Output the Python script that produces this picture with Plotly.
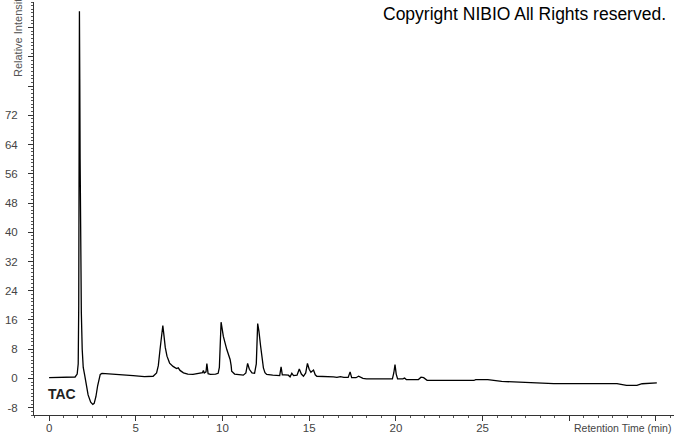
import plotly.graph_objects as go

# Retention time (min) and relative intensity
time_min = [
    0.0, 1.0, 1.5, 1.62, 1.68, 1.71, 1.75, 1.77, 1.79, 1.82, 1.86, 1.91, 1.97, 2.05,
    2.13, 2.25, 2.4, 2.52, 2.6, 2.7, 2.8, 2.88, 2.95, 3.05, 3.5, 4.0, 4.85, 5.5,
    6.0, 6.2, 6.3, 6.4, 6.5, 6.56, 6.62, 6.7, 6.8, 6.95, 7.15, 7.35, 7.45, 7.55,
    7.75, 8.0, 8.3, 8.6, 8.85, 8.9, 8.95, 9.05, 9.1, 9.17, 9.3, 9.6, 9.75, 9.82,
    9.92, 10.0, 10.05, 10.25, 10.44, 10.5, 10.53, 10.7, 11.0, 11.2, 11.35, 11.45,
    11.55, 11.7, 11.85, 11.95, 12.03, 12.1, 12.2, 12.3, 12.36, 12.45, 12.55, 12.9,
    13.3, 13.38, 13.45, 13.6, 13.8, 13.9, 14.0, 14.1, 14.3, 14.43, 14.55, 14.67,
    14.8, 14.9, 15.0, 15.1, 15.25, 15.35, 15.44, 16.4, 16.6, 16.8, 17.0, 17.25,
    17.36, 17.45, 17.7, 17.85, 17.95, 18.1, 18.3, 19.8, 19.88, 19.95, 20.02, 20.1,
    20.4, 20.5, 20.6, 21.3, 21.45, 21.6, 21.8, 24.5, 24.6, 25.3, 26.1, 27.25,
    29.1, 32.75, 33.3, 33.9, 34.2, 35.05,
]
intensity = [
    0.2, 0.2, 0.4, 1.2, 4.0, 20.0, 100.5, 82.0, 60.0, 35.0, 18.0, 8.0, 3.0, 1.0,
    -1.5, -4.5, -6.5, -7.1, -6.8, -5.0, -2.0, 0.0, 1.1, 1.4, 1.3, 1.0, 0.8, 0.5,
    0.6, 1.5, 3.5, 8.0, 13.0, 14.5, 12.0, 8.5, 6.1, 4.2, 3.3, 2.7, 2.9, 2.2,
    1.55, 1.2, 1.1, 1.4, 1.6, 2.2, 1.5, 1.8, 4.1, 1.3, 1.1, 1.2, 1.4, 3.0,
    15.4, 13.0, 11.5, 7.9, 5.2, 3.5, 2.0, 1.2, 0.9, 0.9, 1.5, 4.1,
    2.5, 1.5, 1.4, 4.0, 15.0, 13.0, 8.8, 5.0, 2.9, 1.6, 1.1, 0.9,
    0.8, 3.2, 1.0, 1.0, 0.9, 0.45, 1.4, 0.8, 0.9, 2.6, 1.2, 0.6,
    1.5, 4.1, 2.5, 1.7, 2.3, 1.0, 0.6, 0.45, 0.3, 0.5, 0.3, 0.3,
    1.8, 0.2, 0.2, 0.6, 0.4, 0.0, -0.1, -0.1, 1.5, 3.8, 1.2, -0.1,
    -0.1, 0.1, -0.3, -0.3, 0.35, 0.2, -0.5, -0.55, -0.3, -0.3, -0.8, -1.0,
    -1.4, -1.4, -1.9, -1.9, -1.45, -1.2,
]

y_tick_vals = [-8, 0, 8, 16, 24, 32, 40, 48, 56, 64, 72, 80, 88, 96]
y_tick_text = ["-8", "0", "8", "16", "24", "32", "40", "48", "56", "64", "72", "", "", ""]
x_tick_vals = [0, 5, 10, 15, 20, 25, 30, 35]
x_tick_text = ["0", "5", "10", "15", "20", "25", "", ""]

fig = go.Figure()
fig.add_trace(go.Scatter(
    x=time_min, y=intensity, mode="lines",
    line=dict(color="black", width=1.3),
    hoverinfo="skip", showlegend=False,
))

font_family = "Arial, Liberation Sans, sans-serif"
tick_font = dict(family=font_family, size=11.5, color="#444")

fig.update_layout(
    width=674, height=434,
    margin=dict(l=34, r=0, t=2, b=19),
    paper_bgcolor="white", plot_bgcolor="white",
    xaxis=dict(
        range=[-0.87, 36.04], showgrid=False, zeroline=False, automargin=False,
        showline=True, linecolor="#333", linewidth=1,
        ticks="outside", ticklen=5, tickcolor="#333", ticklabelstandoff=-3,
        tickmode="array", tickvals=x_tick_vals, ticktext=x_tick_text,
        tickfont=tick_font,
        minor=dict(ticks="outside", ticklen=2, tickcolor="#555", dtick=5/6, tick0=0, showgrid=False),
    ),
    yaxis=dict(
        range=[-10, 103], showgrid=False, zeroline=False, automargin=False,
        showline=True, linecolor="#333", linewidth=1,
        ticks="outside", ticklen=5, tickcolor="#333", ticklabelstandoff=8,
        tickmode="array", tickvals=y_tick_vals, ticktext=y_tick_text,
        tickfont=tick_font,
        minor=dict(ticks="outside", ticklen=2, tickcolor="#555", dtick=1, tick0=0, showgrid=False),
    ),
    annotations=[
        dict(text="Copyright NIBIO All Rights reserved.", xref="paper", yref="paper",
             x=(668 - 34) / 640, y=1 - (14 - 2) / 413, xanchor="right", yanchor="middle",
             showarrow=False, font=dict(family=font_family, size=17.5, color="black")),
        dict(text="<b>TAC</b>", xref="paper", yref="paper",
             x=(46 - 34) / 640, y=(415 - 394) / 413, xanchor="left", yanchor="middle",
             showarrow=False, font=dict(family=font_family, size=14, color="#222")),
        dict(text="Retention Time (min)", xref="paper", yref="paper",
             x=(673 - 34) / 640, y=-(428 - 415) / 413, xanchor="right", yanchor="middle",
             showarrow=False, font=dict(family=font_family, size=10.5, color="#444")),
        dict(text="Relative Intensity", xref="paper", yref="paper", textangle=-90,
             x=(18 - 34) / 640, y=(415 - 79) / 413, xanchor="center", yanchor="bottom",
             showarrow=False, font=dict(family=font_family, size=11, color="#555")),
    ],
)

fig.write_html(
    "out.html",
    config={"displayModeBar": False, "staticPlot": True},
    post_script="document.body.style.margin='0';document.body.style.padding='0';document.body.style.overflow='hidden';",
)
